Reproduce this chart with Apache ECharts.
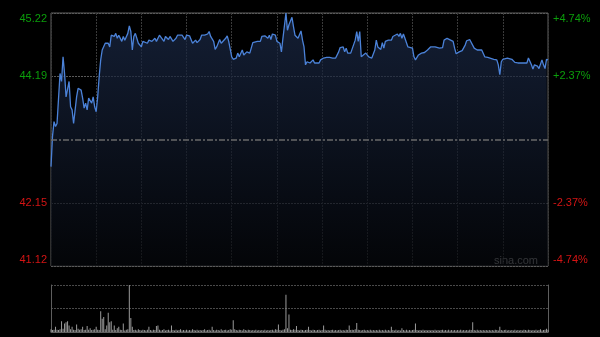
<!DOCTYPE html>
<html>
<head>
<meta charset="utf-8">
<script src="https://cdn.jsdelivr.net/npm/echarts@6/dist/echarts.min.js"></script>
<style>
html,body{margin:0;padding:0;background:#000;}
#c{width:600px;height:337px;}
</style>
</head>
<body>
<div id="c"></div>
<script>
// Minutes since the open (0..330, HK session) and last price at each
const minutes = [0,1,2,3,4,6,7,8,9,10,12,13,14,15,17,18,20,21,22,23,24,25,26,27,28,29,30,31,32,33,34,35,36,37,38,39,40,42,43,44,45,47,48,49,51,52,53,54,55,56,58,59,60,61,62,64,65,66,
67,69,70,72,73,75,76,78,79,81,83,84,87,88,89,90,92,93,94,96,97,99,100,102,104,105,106,108,109,110,112,113,114,116,117,118,119,120,121,123,124,125,127,128,129,130,131,
132,133,134,137,139,140,142,144,145,146,147,148,149,150,152,153,154,156,157,158,159,160,161,162,163,164,166,167,168,169,170,172,174,175,176,178,179,181,183,185,187,189,191,192,194,195,196,197,198,
199,200,202,203,204,205,206,207,209,211,213,215,216,217,219,220,221,222,224,226,227,228,230,231,232,233,234,235,237,238,240,241,242,244,246,248,250,252,253,255,256,258,260,261,263,264,
267,268,269,271,273,275,276,278,279,281,283,286,288,290,294,296,297,298,299,300,303,306,308,310,314,316,317,319,320,321,322,323,324,325,326,327,328,329,330];
const prices = [42.73,43.22,43.46,43.38,43.43,44.24,44.11,44.51,44.24,43.86,44.11,43.70,43.65,43.43,43.86,44.00,43.97,43.84,43.68,43.76,43.65,43.84,43.84,43.76,43.86,43.70,43.62,43.86,44.19,44.46,44.62,44.59,44.73,44.76,44.73,44.67,44.86,44.84,44.89,44.81,44.86,44.76,44.84,44.78,44.89,45.01,44.92,44.62,44.84,44.89,44.73,44.70,44.67,44.76,44.78,44.73,44.78,44.76,
44.76,44.81,44.76,44.86,44.85,44.76,44.84,44.79,44.84,44.76,44.81,44.86,44.86,44.84,44.79,44.86,44.85,44.84,44.73,44.78,44.74,44.79,44.86,44.86,44.88,44.92,44.84,44.76,44.63,44.67,44.79,44.73,44.76,44.81,44.85,44.76,44.73,44.51,44.47,44.49,44.57,44.51,44.62,44.54,44.51,44.59,44.58,
44.57,44.59,44.74,44.76,44.76,44.84,44.85,44.81,44.86,44.79,44.88,44.89,44.86,44.76,44.73,44.59,44.81,45.22,44.94,45.03,45.03,45.15,45.00,44.86,44.85,44.81,44.93,44.78,44.67,44.38,44.43,44.41,44.46,44.41,44.38,44.41,44.46,44.49,44.50,44.50,44.49,44.49,44.59,44.66,44.67,44.59,44.65,44.57,44.58,
44.57,44.54,44.78,44.92,44.76,44.92,44.51,44.51,44.57,44.51,44.49,44.62,44.78,44.67,44.63,44.74,44.65,44.76,44.78,44.78,44.84,44.86,44.88,44.84,44.89,44.81,44.88,44.81,44.67,44.66,44.65,44.51,44.46,44.54,44.57,44.58,44.62,44.67,44.69,44.67,44.65,44.65,44.66,44.78,44.81,44.81,
44.76,44.65,44.56,44.59,44.61,44.70,44.77,44.79,44.76,44.65,44.62,44.62,44.51,44.50,44.47,44.46,44.38,44.22,44.43,44.47,44.49,44.47,44.42,44.41,44.41,44.41,44.49,44.38,44.31,44.38,44.36,44.36,44.32,44.29,44.46,44.38,44.32,44.47,44.46];
// Volume per minute (relative units), minute = array index
const volumes = [6,4,5,11,5,4,6,23,7,18,
21,23,14,6,11,5,4,16,7,5,
6,11,4,5,13,5,8,4,5,6,
11,5,4,44,28,32,6,14,41,21,
23,5,14,4,8,11,5,4,18,3,
5,6,100,30,11,4,5,3,6,4,
3,5,4,3,5,11,4,3,5,4,
13,14,5,3,4,6,3,4,5,3,
14,4,3,5,3,4,6,3,4,3,
5,3,4,3,6,4,3,5,3,4,
3,4,6,3,4,5,3,11,4,3,
5,4,3,6,3,4,5,3,4,6,
5,25,6,4,3,5,4,3,6,4,
3,5,4,3,4,3,5,3,4,3,
4,3,5,3,4,3,4,5,3,6,
5,16,4,3,5,6,79,8,37,5,
4,6,5,13,4,3,5,4,3,4,
5,11,4,3,5,4,3,4,5,3,
4,14,5,3,4,3,4,5,3,4,
3,4,5,3,4,3,5,4,14,4,
5,4,6,19,5,4,3,4,5,3,
4,3,5,3,4,3,4,3,5,3,
4,3,5,3,4,3,11,4,3,5,
3,4,3,8,4,3,5,3,4,3,
4,5,18,4,3,4,3,5,3,4,
3,4,3,4,3,5,3,4,3,4,
5,3,4,3,5,3,4,3,4,3,
4,3,5,3,4,3,4,3,5,4,
21,4,3,5,3,4,3,4,3,4,
3,4,3,4,3,5,4,3,11,4,
3,4,5,3,4,3,4,3,5,3,
4,3,4,3,5,4,3,5,4,3,
4,3,5,3,4,6,3,4,5,7,
5];
const prevClose = 43.17;
const priceMin = 41.12, priceMax = 45.22;
const pctMin = -4.74, pctMax = 4.74, pctStep = 2.37;
// tick labels, bottom to top
const leftLabels = ['41.12', '42.15', '', '44.19', '45.22'];
const rightLabels = ['-4.74%', '-2.37%', '', '+2.37%', '+4.74%'];
const sessionMinutes = 330, gridStep = 30;

const GREEN = '#0b9e0b', RED = '#d41414';
function richFor(list, align) {
  const r = {};
  r.g = {color: GREEN, fontSize: 11, fontFamily: 'Arial'};
  r.r = {color: RED, fontSize: 11, fontFamily: 'Arial'};
  r.gt = {color: GREEN, fontSize: 11, fontFamily: 'Arial', padding: [12, 0, 0, 0]};
  r.rb = {color: RED, fontSize: 11, fontFamily: 'Arial', padding: [0, 0, 12, 0]};
  return r;
}
function fmt(list) {
  return function (v, i) {
    const t = list[i];
    if (!t) return '';
    const last = list.length - 1;
    if (i === 0) return '{rb|' + t + '}';
    if (i === last) return '{gt|' + t + '}';
    return (i < last / 2 ? '{r|' : '{g|') + t + '}';
  };
}

const chart = echarts.init(document.getElementById('c'), null, {renderer: 'canvas'});
chart.setOption({
  backgroundColor: '#000',
  animation: false,
  grid: [
    {left: 51, top: 13, width: 497, height: 253, show: true, borderColor: '#5e5e5e', borderWidth: 1, backgroundColor: 'transparent'},
    {left: 51, top: 285, width: 497, height: 47}
  ],
  xAxis: [
    {type: 'value', gridIndex: 0, min: 0, max: sessionMinutes, interval: gridStep,
     axisLine: {show: false}, axisTick: {show: false}, axisLabel: {show: false},
     splitLine: {show: true, lineStyle: {color: '#3a3a3a', type: [2, 1], width: 1}}},
    {type: 'value', gridIndex: 1, min: 0, max: sessionMinutes,
     axisLine: {show: true, onZero: false, lineStyle: {color: '#5e5e5e'}}, axisTick: {show: false}, axisLabel: {show: false},
     splitLine: {show: false}}
  ],
  yAxis: [
    {type: 'value', gridIndex: 0, min: priceMin, max: priceMax, show: false, splitLine: {show: false}},
    {type: 'value', gridIndex: 0, position: 'left', min: pctMin, max: pctMax, interval: pctStep,
     axisLine: {show: false}, axisTick: {show: false},
     axisLabel: {show: true, margin: 4, formatter: fmt(leftLabels), rich: richFor()},
     splitLine: {show: true, lineStyle: {color: ['#5a5a5a', '#5a5a5a', 'rgba(0,0,0,0)', '#5a5a5a', '#5a5a5a'], type: [2, 1], width: 1}}},
    {type: 'value', gridIndex: 0, position: 'right', min: pctMin, max: pctMax, interval: pctStep,
     axisLine: {show: false}, axisTick: {show: false},
     axisLabel: {show: true, margin: 5, formatter: fmt(rightLabels), rich: richFor()},
     splitLine: {show: false}},
    {type: 'value', gridIndex: 1, position: 'left', min: 0, max: 100, interval: 50,
     axisLine: {show: true, lineStyle: {color: '#5e5e5e'}}, axisTick: {show: false}, axisLabel: {show: false},
     splitLine: {show: true, lineStyle: {color: '#4a4a4a', type: [2, 1]}}},
    {type: 'value', gridIndex: 1, position: 'right', min: 0, max: 100,
     axisLine: {show: true, lineStyle: {color: '#5e5e5e'}}, axisTick: {show: false}, axisLabel: {show: false},
     splitLine: {show: false}}
  ],
  series: [
    {type: 'line', xAxisIndex: 0, yAxisIndex: 0,
     data: minutes.map((m, i) => [m, prices[i]]),
     showSymbol: false, symbol: 'none', smooth: false,
     lineStyle: {color: '#4b82d8', width: 1.3},
     areaStyle: {color: new echarts.graphic.LinearGradient(0, 0, 0, 1, [
       {offset: 0, color: '#1c2b4a'}, {offset: 1, color: '#05070b'}])},
     markLine: {silent: true, symbol: 'none', label: {show: false},
       lineStyle: {color: '#6a6a6a', type: [6, 2, 2, 2], width: 1.5},
       data: [{yAxis: prevClose}]},
     z: 3},
    {type: 'bar', xAxisIndex: 1, yAxisIndex: 3,
     data: volumes.map((v, i) => [i, v]),
     barWidth: 1, itemStyle: {color: '#9a9a9a'}, z: 2}
  ],
  graphic: [
    {type: 'text', right: 62, top: 255,
     style: {text: 'sina.com', fill: '#9c9c9c', font: '11px Arial'}}
  ]
});
</script>
</body>
</html>
